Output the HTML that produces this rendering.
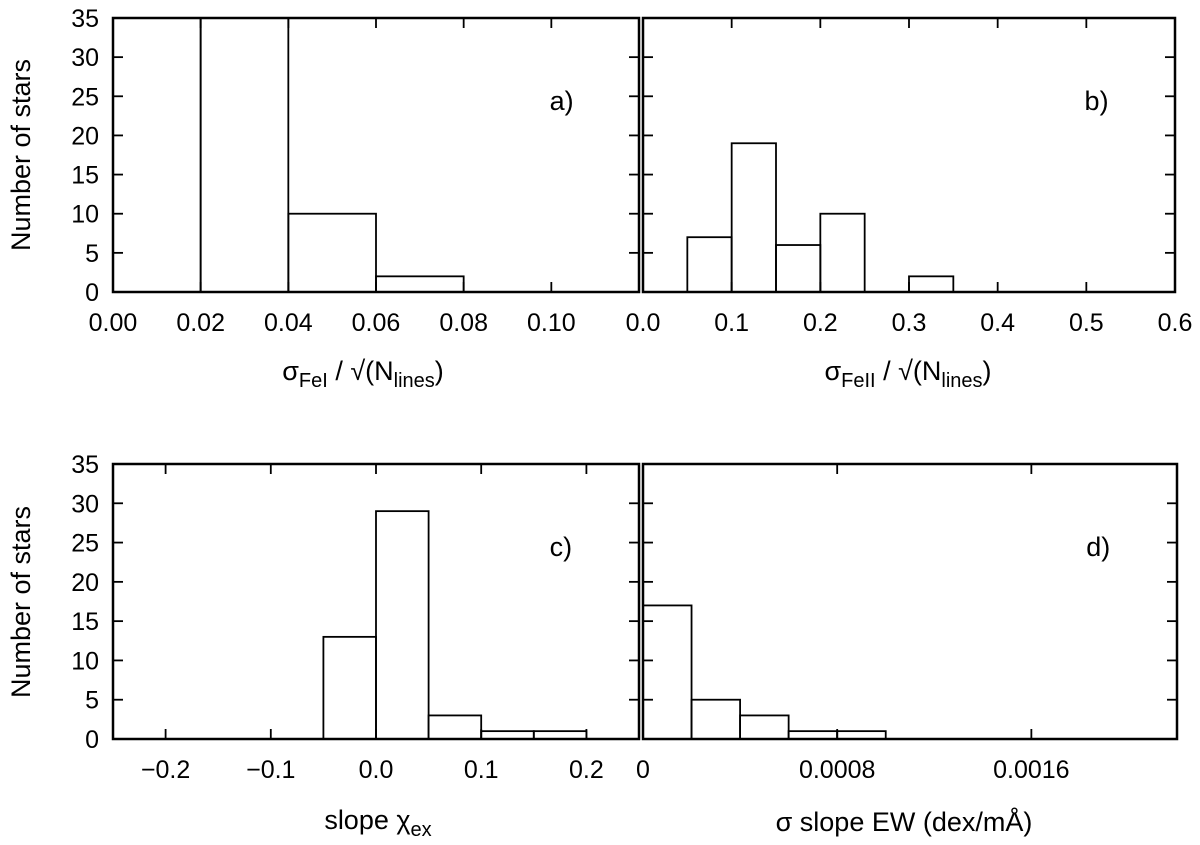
<!DOCTYPE html>
<html><head><meta charset="utf-8"><style>
body{margin:0;background:#fff}
svg{display:block;font-family:"Liberation Sans",Helvetica,sans-serif}
</style></head><body>
<svg id="c" width="1200" height="845" viewBox="0 0 1200 845"></svg>
<script>
const aEdges=[0,0.02,0.04,0.06,0.08], aCounts=[40,40,10,2];
const bEdges=[0.05,0.1,0.15,0.2,0.25,0.3,0.35], bCounts=[7,19,6,10,0,2];
const cEdges=[-0.05,0,0.05,0.1,0.15,0.2], cCounts=[13,29,3,1,1];
const dEdges=[0,0.0002,0.0004,0.0006,0.0008,0.001], dCounts=[17,5,3,1,1];
const aTicks=["0.00","0.02","0.04","0.06","0.08","0.10"];
const bTicks=["0.0","0.1","0.2","0.3","0.4","0.5","0.6"];
const cTicks=["\u22120.2","\u22120.1","0.0","0.1","0.2"];
const dTicks=["0","0.0008","0.0016"];
const yTicks=[0,5,10,15,20,25,30,35];
const NS="http://www.w3.org/2000/svg", svg=document.getElementById('c');
function el(t,a,p){const e=document.createElementNS(NS,t);for(const k in a)e.setAttribute(k,a[k]);(p||svg).appendChild(e);return e;}
function panel(o){
  const g=el('g',{});
  
  
  const X=v=>o.x0+(v-o.xmin)/(o.xmax-o.xmin)*(o.x1-o.x0);
  const Y=v=>o.y1-v/35*(o.y1-o.y0);
  const cp='clip'+o.id;
  const cl=el('clipPath',{id:cp},g);el('rect',{x:o.x0,y:o.y0,width:o.x1-o.x0,height:o.y1-o.y0},cl);
  const bars=el('g',{'clip-path':'url(#'+cp+')'},g);
  o.counts.forEach((c,i)=>{ if(c<=0)return;
    const r=el('rect',{x:X(o.edges[i]),y:Y(c),width:X(o.edges[i+1])-X(o.edges[i]),height:Y(0)-Y(c),fill:'none',stroke:'#000','stroke-width':1.8},bars);
    
    
  });
  yTicks.forEach(t=>{const y=Y(t);
    el('line',{x1:o.x0,x2:o.x0+10,y1:y,y2:y,stroke:'#000','stroke-width':1.8},g);
    el('line',{x1:o.x1,x2:o.x1-10,y1:y,y2:y,stroke:'#000','stroke-width':1.8},g);
    if(o.ylab){const tx=el('text',{x:o.x0-14,y:y+9,'text-anchor':'end','font-size':25},g);tx.textContent=t;}
  });
  o.ticks.forEach((lab,i)=>{const x=X(o.tickVals[i]);
    el('line',{x1:x,x2:x,y1:o.y1,y2:o.y1-10,stroke:'#000','stroke-width':1.8},g);
    el('line',{x1:x,x2:x,y1:o.y0,y2:o.y0+10,stroke:'#000','stroke-width':1.8},g);
    const tx=el('text',{x:x,y:o.y1+39,'text-anchor':'middle','font-size':25},g);tx.textContent=lab;
  });
  el('rect',{x:o.x0,y:o.y0,width:o.x1-o.x0,height:o.y1-o.y0,fill:'none',stroke:'#000','stroke-width':2.5},g);
  const pl=el('text',{x:o.x0+(o.x1-o.x0)*0.83,y:o.y0+92,'font-size':27},g);pl.textContent=o.id+')';
  
  
}
panel({id:'a',x0:113,x1:639,y0:18,y1:292,xmin:0,xmax:0.12,edges:aEdges,counts:aCounts,ticks:aTicks,tickVals:[0,0.02,0.04,0.06,0.08,0.10],ylab:true});
panel({id:'b',x0:643,x1:1175,y0:18,y1:292,xmin:0,xmax:0.6,edges:bEdges,counts:bCounts,ticks:bTicks,tickVals:[0,0.1,0.2,0.3,0.4,0.5,0.6],ylab:false});
panel({id:'c',x0:113,x1:639,y0:464,y1:739,xmin:-0.25,xmax:0.25,edges:cEdges,counts:cCounts,ticks:cTicks,tickVals:[-0.2,-0.1,0,0.1,0.2],ylab:true});
panel({id:'d',x0:643,x1:1177,y0:464,y1:739,xmin:0,xmax:0.0022,edges:dEdges,counts:dCounts,ticks:dTicks,tickVals:[0,0.0008,0.0016],ylab:false});
</script>
<svg style="position:absolute;left:0;top:0" width="1200" height="845">
<g font-family="Liberation Sans, sans-serif" font-size="27">
<text transform="translate(30,155) rotate(-90)" text-anchor="middle">Number of stars</text>
<text transform="translate(30,602) rotate(-90)" text-anchor="middle">Number of stars</text>
<text x="363" y="380" text-anchor="middle">σ<tspan font-size="20" dy="7">FeI</tspan><tspan dy="-7"> / √(N</tspan><tspan font-size="20" dy="7">lines</tspan><tspan dy="-7">)</tspan></text>
<text x="908" y="380" text-anchor="middle">σ<tspan font-size="20" dy="7">FeII</tspan><tspan dy="-7"> / √(N</tspan><tspan font-size="20" dy="7">lines</tspan><tspan dy="-7">)</tspan></text>
<text x="378" y="829" text-anchor="middle">slope χ<tspan font-size="20" dy="7">ex</tspan></text>
<text x="904" y="831" text-anchor="middle">σ slope EW (dex/mÅ)</text>
</g></svg>
</body></html>
